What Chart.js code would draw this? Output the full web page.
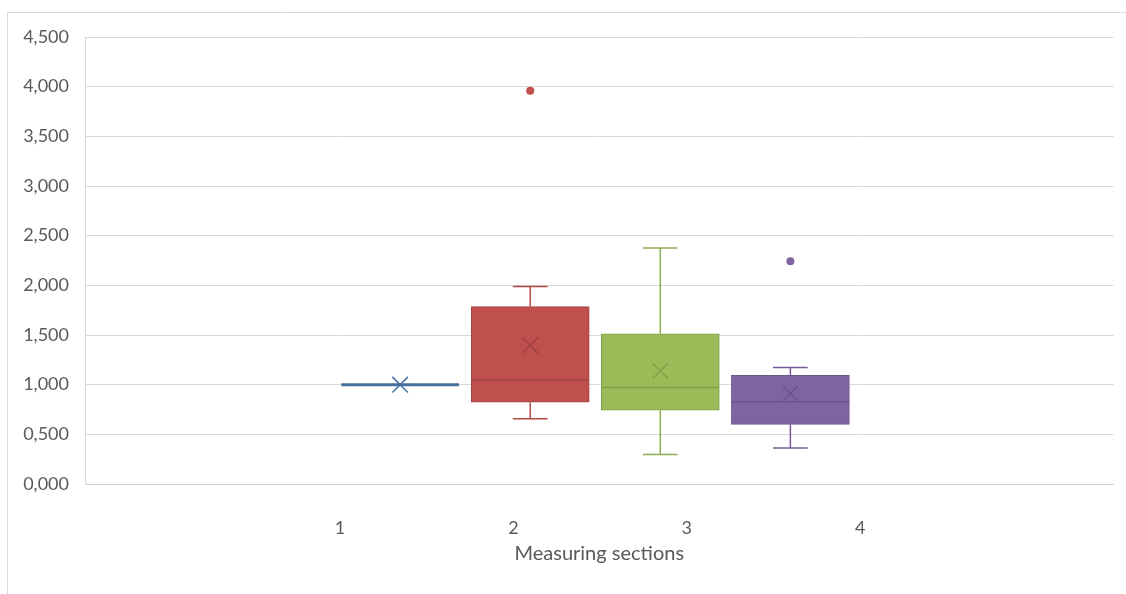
<!DOCTYPE html>
<html>
<head>
<meta charset="utf-8">
<script src="https://cdn.jsdelivr.net/npm/chart.js@4.4.1/dist/chart.umd.min.js"></script>
<style>
  html, body { margin: 0; padding: 0; background: #ffffff; }
  canvas { display: block; }
</style>
</head>
<body>
<canvas id="chart" width="1126" height="594"></canvas>
<script>
// Box-and-whisker statistics for each measuring section
const sectionLabels = ['1', '2', '3', '4'];
const whiskerLow  = [1.000, 0.656, 0.298, 0.362];
const quartile1   = [1.000, 0.824, 0.743, 0.600];
const medians     = [1.000, 1.045, 0.971, 0.827];
const quartile3   = [1.000, 1.785, 1.513, 1.095];
const whiskerHigh = [1.000, 1.989, 2.377, 1.172];
const means       = [1.000, 1.396, 1.138, 0.911];
const outliers    = [[], [3.960], [], [2.243]];

// Value axis range
const yMin = 0, yMax = 4.5, yStep = 0.5;

// Series colours (fill, whisker, outline/median/mean)
const fillColors    = ['#4f81bd', '#c0504d', '#9bbb59', '#8064a2'];
const whiskerColors = ['#4a7ab3', '#b04845', '#8eac52', '#765c98'];
const darkColors    = ['#44709f', '#a04340', '#81a049', '#6a548a'];
const medianWidths  = [3, 1.5, 1.5, 1.5];

// Boxes sit side by side in one group around the middle of the axis
const GROUP_CENTER = 2.472, SLOT = 0.75, BOX_W = 0.679, CAP_W = 0.2;
const centers = sectionLabels.map((_, i) => GROUP_CENTER + (i - 1.5) * SLOT);

const TEXT = '#595959';
const FONT = { family: 'Lato, "Open Sans", sans-serif', size: 18 };
const TITLE_FONT = { family: 'Lato, "Open Sans", sans-serif', size: 20 };

const datasets = [];

// Mean markers
datasets.push({
  type: 'scatter', order: 0,
  data: centers.map((c, i) => ({ x: c, y: means[i] })),
  pointStyle: 'crossRot', pointRadius: 11, pointHoverRadius: 11,
  borderColor: darkColors, backgroundColor: 'rgba(0,0,0,0)', borderWidth: 1.5
});

// Outlier points
const outlierPoints = [], outlierColors = [];
outliers.forEach((vals, i) => vals.forEach(v => {
  outlierPoints.push({ x: centers[i], y: v });
  outlierColors.push(fillColors[i]);
}));
datasets.push({
  type: 'scatter', order: 0,
  data: outlierPoints,
  pointStyle: 'circle', pointRadius: 4, pointHoverRadius: 4,
  backgroundColor: outlierColors, borderColor: outlierColors, borderWidth: 0
});

sectionLabels.forEach((name, i) => {
  const c = centers[i];
  // Median line across the box
  datasets.push({
    type: 'line', order: 1,
    data: [{ x: c - BOX_W / 2, y: medians[i] }, { x: c + BOX_W / 2, y: medians[i] }],
    borderColor: darkColors[i], borderWidth: medianWidths[i],
    pointRadius: 0, fill: false, tension: 0
  });
  // Whiskers and caps
  datasets.push({
    type: 'line', order: 2,
    data: [
      { x: c, y: quartile1[i] }, { x: c, y: whiskerLow[i] }, { x: c, y: null },
      { x: c, y: quartile3[i] }, { x: c, y: whiskerHigh[i] }, { x: c, y: null },
      { x: c - CAP_W / 2, y: whiskerLow[i] }, { x: c + CAP_W / 2, y: whiskerLow[i] }, { x: c, y: null },
      { x: c - CAP_W / 2, y: whiskerHigh[i] }, { x: c + CAP_W / 2, y: whiskerHigh[i] }
    ],
    borderColor: whiskerColors[i], borderWidth: 1.5,
    pointRadius: 0, fill: false, tension: 0, spanGaps: false
  });
});

// Interquartile boxes
datasets.push({
  type: 'bar', order: 3,
  data: centers.map((c, i) => ({ x: c, y: [quartile1[i], quartile3[i]] })),
  backgroundColor: fillColors, borderColor: darkColors,
  borderWidth: 1, borderSkipped: false, barThickness: 118
});

// Thin outer frame of the chart object
const framePlugin = {
  id: 'frame',
  beforeDraw(chart) {
    const ctx = chart.ctx;
    ctx.save();
    ctx.fillStyle = '#ffffff';
    ctx.fillRect(0, 0, chart.width, chart.height);
    ctx.strokeStyle = '#d9d9d9';
    ctx.lineWidth = 1;
    ctx.beginPath();
    ctx.moveTo(7.5, chart.height + 2);
    ctx.lineTo(7.5, 12.5);
    ctx.lineTo(chart.width + 2, 12.5);
    ctx.stroke();
    ctx.restore();
  }
};

new Chart(document.getElementById('chart'), {
  type: 'bar',
  data: { datasets },
  plugins: [framePlugin],
  options: {
    responsive: false,
    animation: false,
    layout: { padding: { left: 0, top: 37, right: 10, bottom: 0 } },
    plugins: { legend: { display: false }, tooltip: { enabled: false } },
    scales: {
      x: {
        type: 'linear',
        offset: false,
        min: -0.47, max: 5.46,
        grid: { display: false, drawTicks: false, offset: false },
        border: { display: true, color: '#d0d0d0', width: 1 },
        afterBuildTicks(scale) {
          scale.ticks = sectionLabels.map((_, i) => ({ value: i + 1 }));
        },
        afterFit(scale) {
          scale.height = 110;
          scale.paddingLeft = 0;
          scale.paddingRight = 0;
        },
        ticks: {
          autoSkip: false, maxRotation: 0, padding: 33,
          color: TEXT, font: FONT,
          callback: (v) => sectionLabels[Math.round(v) - 1] ?? ''
        },
        title: {
          display: true, text: 'Measuring sections',
          color: TEXT, font: TITLE_FONT, padding: { top: 0, bottom: 28 }
        }
      },
      y: {
        type: 'linear',
        min: yMin, max: yMax,
        grid: { color: '#d9d9d9', lineWidth: 1, drawTicks: false },
        border: { display: true, color: '#d9d9d9', width: 1 },
        afterFit(scale) {
          scale.width = 85;
          scale.paddingTop = 0;
          scale.paddingBottom = 0;
        },
        ticks: {
          stepSize: yStep, padding: 16,
          color: TEXT, font: FONT,
          callback: (v) => v.toFixed(3).replace('.', ',')
        }
      }
    }
  }
});
</script>
</body>
</html>
